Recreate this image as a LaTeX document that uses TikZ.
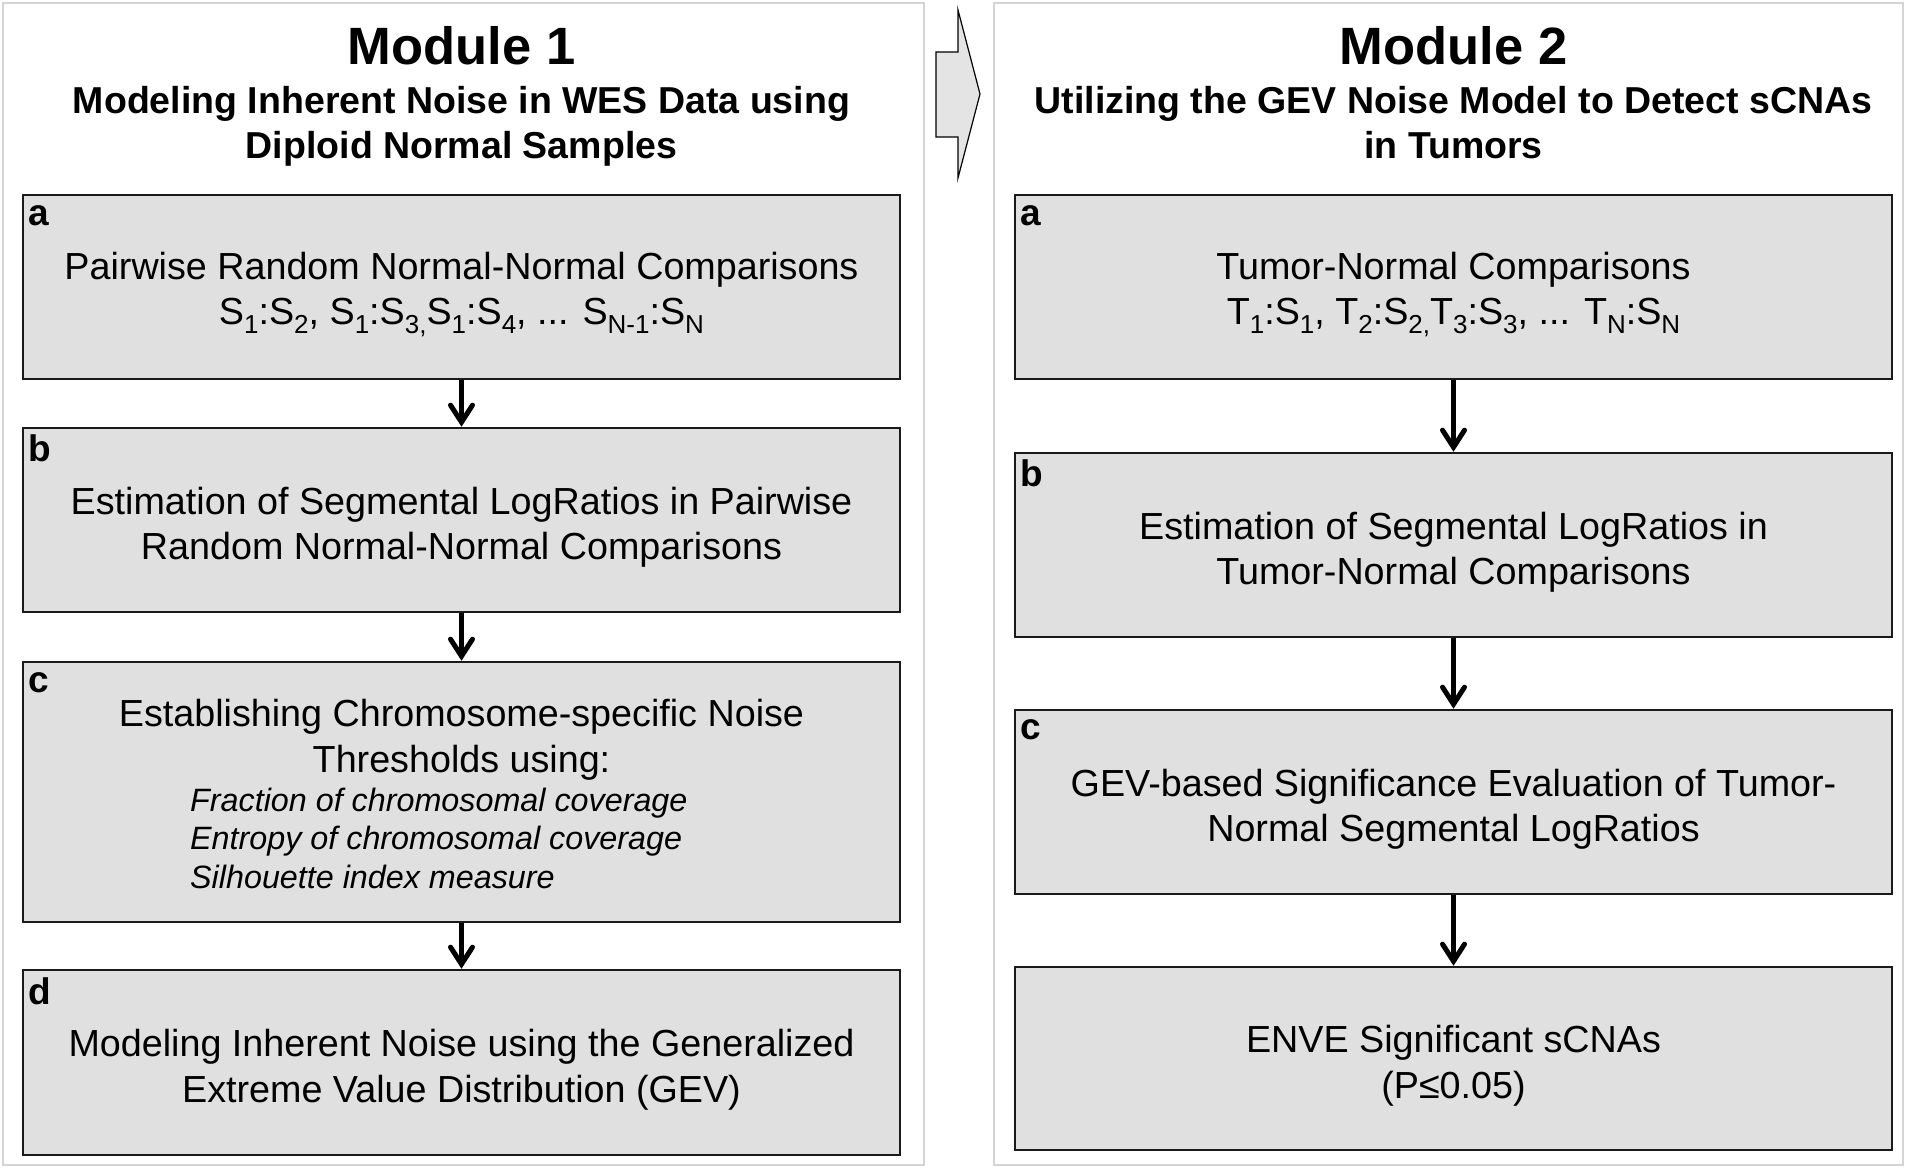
\documentclass[tikz,border=0pt]{standalone}
\usepackage{fontspec}
\setmainfont{Liberation Sans}
\usetikzlibrary{arrows.meta}
\definecolor{boxfill}{HTML}{E0E0E0}
\definecolor{boxline}{HTML}{1A1A1A}
\definecolor{panelline}{HTML}{D4D4D4}
\definecolor{arrowfill}{HTML}{E4E4E4}
\newcommand\mysub[1]{\raisebox{-0.22em}{\fontsize{26}{26}\selectfont #1}}
\newcommand\mystrut{\rule{0pt}{42pt}}
\begin{document}
\begin{tikzpicture}[x=1pt,y=-1pt,
  panel/.style={draw=panelline, line width=2pt},
  stepbox/.style={draw=boxline, fill=boxfill, line width=2.5pt, minimum width=877pt,
    minimum height=184pt, inner sep=0pt, align=center, font=\fontsize{37.7}{45.5}\selectfont},
  plain/.style={inner sep=0pt, align=center, font=\fontsize{37.7}{45.5}\selectfont},
  itlist/.style={inner sep=0pt, align=left, font=\itshape\fontsize{32.3}{38.5}\selectfont},
  lab/.style={font=\bfseries\fontsize{37}{37}\selectfont, anchor=base west, inner sep=0pt},
  flow/.style={line width=5pt, -{Straight Barb[length=17pt,width=22pt,line cap=round]}},
  title/.style={font=\bfseries\fontsize{52.5}{52.5}\selectfont, anchor=base, inner sep=0pt},
  subtitle/.style={font=\bfseries\fontsize{37.5}{45}\selectfont, anchor=base, inner sep=0pt}
]
\useasboundingbox (0,0) rectangle (1907,1169);
\fill[white] (0,0) rectangle (1907,1169);
% panels
\draw[panel] (3,3) rectangle (924,1165);
\draw[panel] (994,3) rectangle (1903,1165);
% big arrow between modules
\draw[fill=arrowfill, draw=black, line width=1.2pt, line join=miter]
  (936,52) -- (958,52) -- (958,10) -- (980,94) -- (958,178) -- (958,137) -- (936,137) -- cycle;
% titles
\node[title] (t1) at (461.5,65) {Module 1};
\node[subtitle] (s1a) at (461.5,114) {Modeling Inherent Noise in WES Data using};
\node[subtitle] (s1b) at (461.5,159) {Diploid Normal Samples};
\node[title] (t2) at (1453.5,65) {Module 2};
\node[subtitle] (s2a) at (1453.5,114) {Utilizing the GEV Noise Model to Detect sCNAs};
\node[subtitle] (s2b) at (1453.5,159) {in Tumors};
% left boxes
\node[stepbox] (La) at (461.5,287) {\mystrut Pairwise Random Normal-Normal Comparisons\\
  S\mysub{1}:S\mysub{2}, S\mysub{1}:S\mysub{3,}S\mysub{1}:S\mysub{4}, ... S\mysub{N-1}:S\mysub{N}};
\node[stepbox] (Lb) at (461.5,520) {\mystrut Estimation of Segmental LogRatios in Pairwise\\Random Normal-Normal Comparisons};
\node[stepbox, minimum height=260pt] (Lc) at (461.5,792) {};
\node[plain, anchor=north] (Lchead) at (461.5,699) {Establishing Chromosome-specific Noise\\Thresholds using:};
\node[itlist, anchor=north west] (Lclist) at (190,787.5) {Fraction of chromosomal coverage\\Entropy of chromosomal coverage\\Silhouette index measure};
\node[stepbox, minimum height=185pt] (Ld) at (461.5,1062.5) {\mystrut Modeling Inherent Noise using the Generalized\\Extreme Value Distribution (GEV)};
% right boxes
\node[stepbox] (Ra) at (1453.5,287) {\mystrut Tumor-Normal Comparisons\\
  T\mysub{1}:S\mysub{1}, T\mysub{2}:S\mysub{2,}T\mysub{3}:S\mysub{3}, ... T\mysub{N}:S\mysub{N}};
\node[stepbox] (Rb) at (1453.5,545) {\mystrut Estimation of Segmental LogRatios in\\Tumor-Normal Comparisons};
\node[stepbox] (Rc) at (1453.5,802) {\mystrut GEV-based Significance Evaluation of Tumor-\\Normal Segmental LogRatios};
\node[stepbox, minimum height=183pt] (Rd) at (1453.5,1058.5) {\mystrut ENVE Significant sCNAs\\(P≤0.05)};
% labels
\node[lab] (laba) at ([xshift=7pt,yshift=-32pt]La.north west) {a};
\node[lab] (labb) at ([xshift=7pt,yshift=-35pt]Lb.north west) {b};
\node[lab] (labc) at ([xshift=7pt,yshift=-32pt]Lc.north west) {c};
\node[lab] (labd) at ([xshift=7pt,yshift=-36pt]Ld.north west) {d};
\node[lab] (rlaba) at ([xshift=7pt,yshift=-32pt]Ra.north west) {a};
\node[lab] (rlabb) at ([xshift=7pt,yshift=-35pt]Rb.north west) {b};
\node[lab] (rlabc) at ([xshift=7pt,yshift=-31pt]Rc.north west) {c};
% connectors
\draw[flow] (La.south) -- (Lb.north);
\draw[flow] (Lb.south) -- (Lc.north);
\draw[flow] (Lc.south) -- (Ld.north);
\draw[flow] (Ra.south) -- (Rb.north);
\draw[flow] (Rb.south) -- (Rc.north);
\draw[flow] (Rc.south) -- (Rd.north);
\end{tikzpicture}
\end{document}
